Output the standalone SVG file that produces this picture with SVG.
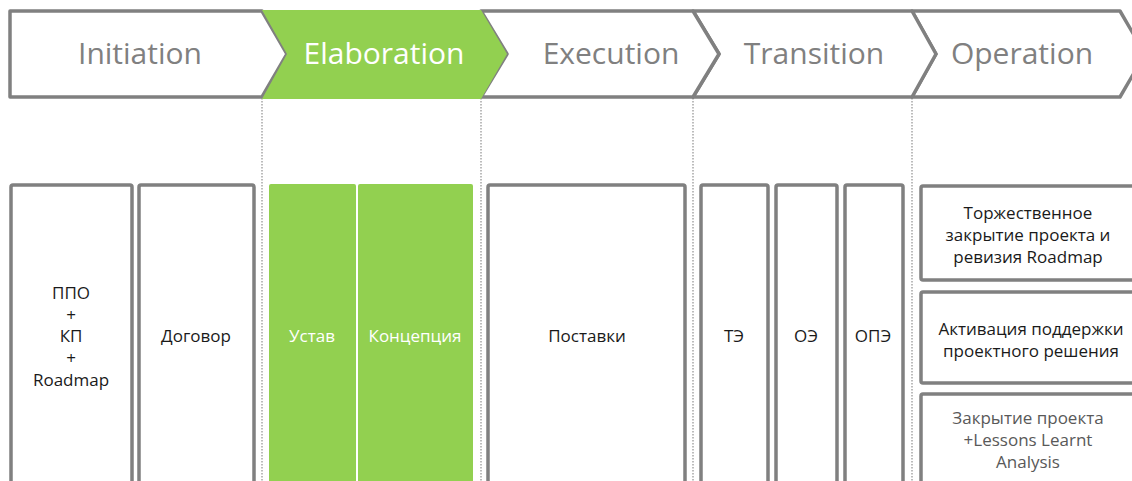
<svg xmlns="http://www.w3.org/2000/svg" width="1132" height="481" viewBox="0 0 1132 481">
<style>
.ch{fill:#fff;stroke:#808080;stroke-width:3.5;stroke-linejoin:round}
.gr{fill:#92d050;stroke:none}
.ph{font-family:"Open Sans","Noto Sans",sans-serif;font-size:30px;fill:#808080;text-anchor:middle}
.phw{fill:#fff}
.bx{fill:#fff;stroke:#808080;stroke-width:3.5}
.gb{fill:#92d050;stroke:none}
.t{font-family:"Open Sans","Noto Sans",sans-serif;font-size:17px;fill:#1a1a1a;text-anchor:middle}
.tw{fill:#fff}
.tg{fill:#595959}
.dot{stroke:#a6a6a6;stroke-width:1.5;stroke-dasharray:1.5 1.5;fill:none}
</style>
<g id="connectors">
<line class="dot" x1="262" y1="98" x2="262" y2="481"/>
<line class="dot" x1="481" y1="98" x2="481" y2="481"/>
<line class="dot" x1="693" y1="98" x2="693" y2="481"/>
<line class="dot" x1="912" y1="98" x2="912" y2="481"/>
</g>
<g id="phase-operation">
<polygon class="ch" points="912,11 1120,11 1145,54 1120,97 912,97 936,54"/>
<text class="ph" x="1022" y="64">Operation</text>
</g>
<g id="phase-transition">
<polygon class="ch" points="693,11 912,11 936,54 912,97 693,97 719,54"/>
<text class="ph" x="814" y="64">Transition</text>
</g>
<g id="phase-execution">
<polygon class="ch" points="481,11 693,11 719,54 693,97 481,97 507,54"/>
<text class="ph" x="611" y="64">Execution</text>
</g>
<g id="phase-initiation">
<polygon class="ch" points="10,11 262,11 287,54 262,97 10,97"/>
<text class="ph" x="140" y="64">Initiation</text>
</g>
<g id="phase-elaboration">
<polygon class="gr" points="262,10 481,10 507,54 481,99 262,99 287,54"/>
<text class="ph phw" x="384" y="64">Elaboration</text>
</g>
<g id="box-ppo">
<rect class="bx" x="11" y="185" width="121" height="310" rx="2"/>
<text class="t" x="71" y="299">ППО</text>
<text class="t" x="71" y="321">+</text>
<text class="t" x="71" y="342">КП</text>
<text class="t" x="71" y="364">+</text>
<text class="t" x="71" y="386">Roadmap</text>
</g>
<g id="box-dogovor">
<rect class="bx" x="139" y="185" width="115" height="310" rx="2"/>
<text class="t" x="196" y="342">Договор</text>
</g>
<g id="box-ustav">
<rect class="gb" x="269" y="184" width="87" height="310" rx="2"/>
<text class="t tw" x="312" y="342">Устав</text>
</g>
<g id="box-koncepciya">
<rect class="gb" x="358" y="184" width="115" height="310" rx="2"/>
<text class="t tw" x="415" y="342">Концепция</text>
</g>
<g id="box-postavki">
<rect class="bx" x="488" y="185" width="197" height="310" rx="2"/>
<text class="t" x="587" y="342">Поставки</text>
</g>
<g id="box-te">
<rect class="bx" x="701" y="185" width="67" height="310" rx="2"/>
<text class="t" x="734" y="342">ТЭ</text>
</g>
<g id="box-oe">
<rect class="bx" x="776" y="185" width="61" height="310" rx="2"/>
<text class="t" x="806" y="342">ОЭ</text>
</g>
<g id="box-ope">
<rect class="bx" x="845" y="185" width="58" height="310" rx="2"/>
<text class="t" x="873" y="342">ОПЭ</text>
</g>
<g id="box-closing">
<rect class="bx" x="921" y="186" width="215" height="94" rx="2"/>
<text class="t" x="1028" y="219">Торжественное</text>
<text class="t" x="1028" y="241">закрытие проекта и</text>
<text class="t" x="1028" y="263">ревизия Roadmap</text>
</g>
<g id="box-support">
<rect class="bx" x="921" y="292" width="215" height="91" rx="2"/>
<text class="t" x="1031" y="335">Активация поддержки</text>
<text class="t" x="1031" y="357">проектного решения</text>
</g>
<g id="box-lessons">
<rect class="bx" x="921" y="394" width="215" height="100" rx="2"/>
<text class="t tg" x="1028" y="424">Закрытие проекта</text>
<text class="t tg" x="1028" y="446">+Lessons Learnt</text>
<text class="t tg" x="1028" y="468">Analysis</text>
</g>
</svg>
